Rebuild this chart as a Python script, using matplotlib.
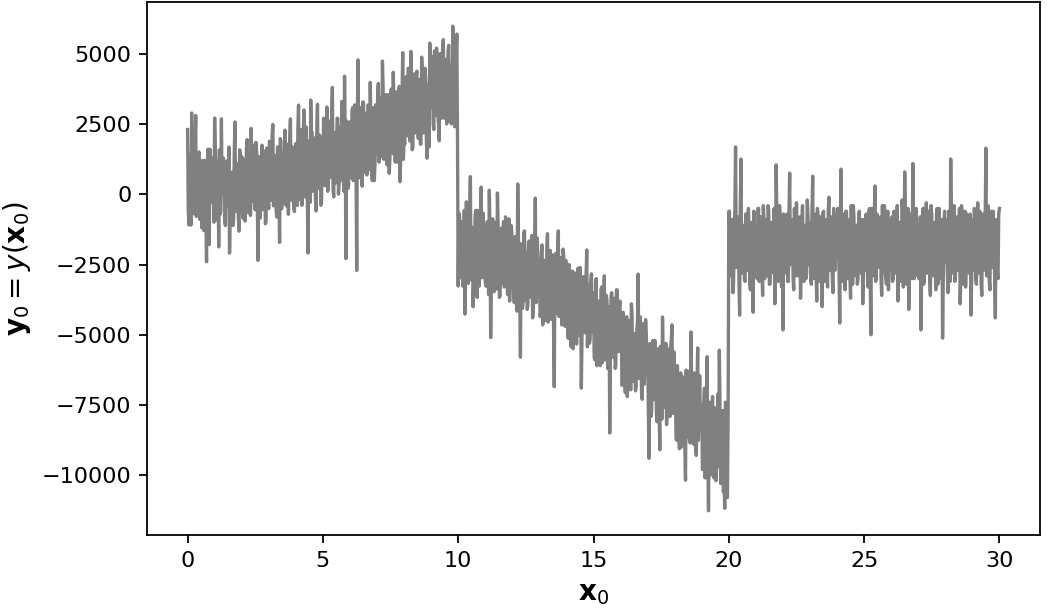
import numpy as np
import matplotlib
matplotlib.use("Agg")
import matplotlib.pyplot as plt

# segment 1: samples at x = 0.00 .. 9.95 (step 0.05)
y_seg1 = [
    2310, -1090, 1110, 2900, 1410, -690, 2810, -190, 910, -890, 510, 1210, -1290, 710, -2400, 1610, -1790, 810, -90, 1310,
    2720, 1090, -210, -1870, -710, 2690, 90, 890, -1110, 1190, -410, -2090, -10, 790, -910, 2580, -610, 590, -1310, 1290,
    1350, -850, 1050, 50, 1950, -650, 650, 2350, -250, 850, -550, 1550, -2350, 1150, -50, 1750, -450, 750, -950, 1250,
    -510, 1690, 90, 2490, 390, 1390, -810, 1090, -1710, 1890, -110, 1190, 2290, -410, 990, 190, 2690, -210, 1290, -610,
    1810, -390, 3180, 110, 2310, 410, 3010, -90, 1310, -2090, 1910, 3360, 2210, 210, 1610, -590, 3210, 810, 2010, -290,
    510, 2510, 1110, 3110, 210, 1910, 810, 3810, -90, 2210, 1210, 2710, 410, 1810, 3310, 710, 4210, -2290, 2010, 310,
    2590, 590, 3090, 1390, 2790, -2710, 4790, 1090, 2190, 290, 3290, 1490, 2890, 790, 2390, 3990, 990, 2090, 490, 3190,
    1450, 3950, 1750, 2850, 4750, 1250, 3250, 2150, 3550, 750, 3050, 1550, 4350, 1950, 2750, 1150, 3650, 450, 3150, 5050,
    1990, 3990, 2490, 4490, 2790, 5090, 1590, 3790, 2190, 4290, 2690, 3590, 1790, 4890, 2390, 3390, 4090, 1290, 3690, 5390,
    3110, 4910, 2310, 4410, 5210, 2910, 1910, 5010, 3410, 5510, 2710, 4610, 3210, 5310, 4110, 2510, 5990, 4510, 3310, 5710,
]
# segment 1: samples at x = 0.025 .. 9.975
y_seg1_mid = [
    -590, 1410, -1090, 810, -190, 1710, -790, 1110, 1510, -390, -1190, 610, 1210, -690, 910, -890, 1610, -290, 1210, -990,
    1390, -910, 790, 1590, -610, -10, 1290, -1010, 990, -310, 1690, -710, 590, -1110, 1490, -410, 1090, -810, 1590, -110,
    -650, 1250, -950, 1650, -50, 1450, -750, 150, 1750, -450, 1850, -150, 1350, -850, 1050, -550, 1550, -1050, 1650, -250,
    1890, -210, 2090, -410, 1190, -610, 1690, -10, 1990, -510, 1490, -310, 1090, 1790, -710, 1990, 90, 1690, -510, 1590,
    10, 2310, -190, 1910, -390, 2110, 310, 2410, -90, 1610, -290, 2210, 110, 2010, -190, 2310, 210, 2110, -390, 1710,
    2710, 310, 2310, 110, 2610, 610, 2810, 210, 2110, 410, 2710, 10, 2410, 510, 2510, 110, 2010, 2610, 210, 2410,
    690, 2990, 490, 3190, 990, 2890, 590, 3090, 1190, 3290, 790, 2790, 690, 3190, 890, 2590, 490, 3090, 1090, 2990,
    3650, 1150, 3450, 1350, 3850, 1550, 3550, 1050, 3250, 1250, 3750, 1450, 3350, 1150, 3650, 1650, 3850, 1350, 3450, 1250,
    1790, 4190, 2090, 4490, 1890, 3990, 1690, 4290, 2290, 4390, 1990, 4090, 1790, 4190, 2190, 4490, 1890, 3890, 1690, 4290,
    4910, 2510, 5110, 2810, 4710, 2410, 5010, 2710, 5210, 2910, 4810, 2510, 5110, 2610, 4610, 2810, 4910, 2410, 5010, 1810,
]

# segment 2: samples at x = 10.00 .. 19.95
y_seg2 = [
    -3267, -767, -2367, -1067, -2067, -4267, -267, -2767, -1467, 633, -3067, -4000, -2467, -567, -3667, -967, -1767, 260, -667, -2867,
    -3100, -1300, -2800, 150, -5100, -1700, -3400, -1000, -2900, 50, -2500, -3600, -1200, -2200, -3300, -800, -2700, -1500, -3800, -1100,
    -1900, -3600, -1500, -3100, 370, -2400, -5800, -2000, -3800, -1300, -2900, -4100, -1700, -3300, -2200, -4400, -1600, -130, -3500, -2600,
    -2300, -4200, -1800, -3700, -2600, -4500, -1400, -3100, -2000, -4000, -2700, -6850, -2100, -3600, -1300, -4300, -2900, -3900, -2200, -4700,
    -3000, -5100, -2500, -4600, -3400, -5500, -2800, -4200, -3600, -5000, -2600, -6900, -3300, -4800, -3900, -1980, -4400, -5300, -3100, -4900,
    -3500, -5900, -3000, -5400, -4200, -6100, -3300, -4900, -2900, -5700, -3800, -4500, -8500, -3600, -5200, -4400, -6200, -3400, -5000, -4100,
    -4700, -6800, -4200, -6300, -5100, -7200, -4500, -6000, -3900, -6600, -5300, -7000, -4800, -2840, -6400, -5500, -7300, -4600, -6100, -5000,
    -5600, -9400, -5900, -7700, -5200, -7300, -6000, -8100, -5500, -9100, -6400, -4370, -7600, -5800, -8200, -6300, -7000, -5400, -4650, -7800,
    -6600, -8700, -6100, -8300, -7000, -9000, -6500, -8500, -10180, -7200, -6300, -8800, -4900, -7400, -8900, -6800, -9300, -5470, -7700, -8400,
    -7500, -9700, -6900, -9300, -5780, -11270, -7800, -9900, -7200, -10100, -8200, -9500, -7100, -5550, -10300, -8000, -10600, -11180, -7600, -10800,
]
# segment 2: samples at x = 10.025 .. 19.975
y_seg2_mid = [
    -670, -2970, -970, -3270, -570, -2670, -870, -3170, -470, -2870, -1170, -3070, -770, -2770, -570, -3270, -1070, -2970, -670, -2570,
    -3270, -970, -3570, -1270, -2970, -870, -3470, -1370, -3370, -1070, -3670, -1470, -3170, -970, -3270, -1170, -3570, -870, -3070, -1270,
    -1560, -3860, -1860, -4160, -1460, -3560, -1760, -4060, -1360, -3760, -2060, -3960, -1660, -3660, -1460, -4160, -1960, -3860, -1560, -3460,
    -4350, -2050, -4650, -2350, -4050, -1950, -4550, -2450, -4450, -2150, -4750, -2550, -4250, -2050, -4350, -2250, -4650, -1950, -4150, -2350,
    -2830, -5130, -3130, -5430, -2730, -4830, -3030, -5330, -2630, -5030, -3330, -5230, -2930, -4930, -2730, -5430, -3230, -5130, -2830, -4730,
    -5800, -3500, -6100, -3800, -5500, -3400, -6000, -3900, -5900, -3600, -6200, -4000, -5700, -3500, -5800, -3700, -6100, -3400, -5600, -3800,
    -4460, -6760, -4760, -7060, -4360, -6460, -4660, -6960, -4260, -6660, -4960, -6860, -4560, -6560, -4360, -7060, -4860, -6760, -4460, -6360,
    -7610, -5310, -7910, -5610, -7310, -5210, -7810, -5710, -7710, -5410, -8010, -5810, -7510, -5310, -7610, -5510, -7910, -5210, -7410, -5610,
    -6460, -8760, -6760, -9060, -6360, -8460, -6660, -8960, -6260, -8660, -6960, -8860, -6560, -8560, -6360, -9060, -6860, -8760, -6460, -8360,
    -9800, -7500, -10100, -7800, -9500, -7400, -10000, -7900, -9900, -7600, -10200, -8000, -9700, -7500, -9800, -7700, -10100, -7400, -9600, -7800,
]

# segment 3: samples at x = 20.00 .. 30.00
y_seg3 = [
    -600, -2900, -1100, -3500, -1500, 1690, -2600, -900, -4300, 1260, -2200, -1400, -3100, -700, -2500, -1600, -3400, -1000, -4200, -1900,
    -1200, -3000, -500, -2300, -1700, -3600, -900, -2700, -1300, -400, -3200, -2000, -1000, -2800, -3900, 1050, -1500, -2400, -800, -3300,
    -4830, -1400, -2600, -700, -3100, 760, -2200, -1100, -3400, -1800, -300, -2900, -1500, -3700, -900, -2300, -1200, -3000, -200, -2500,
    -1000, -3200, 650, -2100, -1600, -3800, -800, -2700, -1300, -4000, -600, -2400, -1700, -3300, -100, -2000, -1100, -3500, -1900, -700,
    -2300, -1200, -4580, 900, -2800, -1500, -3400, -600, -2100, -1000, -3700, -1800, -400, -2900, -1300, -3200, -700, -2600, -1600, -3900,
    -900, -2700, -1400, -3300, -500, -5000, -1700, -2500, 300, -3000, -1200, -2200, -800, -3600, -1500, -400, -2900, -1100, -3400, -2000,
    -1300, -3100, -600, -2400, -1800, -3800, -1000, -2600, -200, -3300, 800, -2000, -1400, -4100, -700, -2300, 1100, -3000, -1600, -2700,
    -1100, -2500, -4830, -900, -3200, -1500, -300, -2800, -1800, -3600, -700, -2200, -1200, -3400, -500, -2600, -1700, -3000, -5120, -1000,
    -2400, -1300, -3500, -600, 1260, -2800, -1600, -3100, -800, -2200, -1000, -3900, -400, -2500, -1400, -3300, -700, -2000, -1200, -4300,
    -900, -2700, -1500, -3200, -300, -2300, -1100, -3600, -700, -2100, 1650, -2900, -1300, -3400, -600, -2500, -1800, -4400, -1000, -3000,
    -500,
]
# segment 3: samples at x = 20.025 .. 29.975
y_seg3_mid = [
    -600, -2900, -900, -3200, -500, -2600, -800, -3100, -400, -2800, -1100, -3000, -700, -2700, -500, -3200, -1000, -2900, -600, -2500,
    -2800, -500, -3100, -800, -2500, -400, -3000, -900, -2900, -600, -3200, -1000, -2700, -500, -2800, -700, -3100, -400, -2600, -800,
    -700, -2800, -1000, -3100, -600, -2500, -900, -3000, -500, -2900, -1200, -2800, -800, -2600, -400, -3100, -1100, -2800, -700, -2400,
    -2900, -600, -3000, -700, -2600, -500, -3100, -800, -2800, -700, -3100, -900, -2800, -600, -2700, -800, -3000, -500, -2700, -900,
    -500, -2800, -1000, -3100, -700, -2700, -600, -3000, -900, -2900, -400, -3200, -800, -2600, -1100, -3000, -600, -2800, -900, -2600,
    -2700, -700, -3000, -600, -2800, -500, -2900, -900, -3100, -700, -2600, -1000, -3000, -400, -2800, -800, -3200, -600, -2500, -900,
    -800, -3000, -700, -2800, -400, -2700, -1000, -3100, -600, -2600, -900, -3200, -500, -2800, -700, -3000, -1100, -2700, -500, -2900,
    -3000, -800, -2700, -500, -3100, -900, -2800, -600, -3000, -400, -2900, -1000, -2600, -700, -3200, -500, -2800, -900, -3000, -600,
    -900, -2800, -600, -3100, -700, -2600, -400, -3000, -1000, -2700, -500, -2900, -800, -3200, -600, -2500, -1100, -2800, -700, -3000,
    -2600, -500, -3000, -900, -2800, -600, -3200, -700, -2700, -1000, -2900, -400, -3100, -800, -2600, -600, -3000, -900, -2800, -700,
]

x_start, x_end = 0, 30
xticks = [0, 5, 10, 15, 20, 25, 30]
yticks = [-10000, -7500, -5000, -2500, 0, 2500, 5000]


def interleave(main, mid):
    out = []
    for i, v in enumerate(main):
        out.append(v)
        if i < len(mid):
            out.append(mid[i])
    return out


y = np.array(interleave(y_seg1, y_seg1_mid) + interleave(y_seg2, y_seg2_mid)
             + interleave(y_seg3, y_seg3_mid), dtype=float)
x = np.linspace(x_start, x_end, len(y))

fig = plt.figure(figsize=(1047 / 160, 611 / 160), dpi=160)
ax = fig.add_axes([147 / 1047, 1 - 535 / 611, (1040 - 147) / 1047, (535 - 2) / 611])
ax.plot(x, y, color="gray", linewidth=1.5)
ax.set_xticks(xticks)
ax.set_yticks(yticks)
ax.set_xlabel(r"$\mathbf{x}_0$", fontsize=12.5)
ax.set_ylabel(r"$\mathbf{y}_0 = y(\mathbf{x}_0)$", fontsize=12.5)
fig.savefig("out.png", dpi=160)
